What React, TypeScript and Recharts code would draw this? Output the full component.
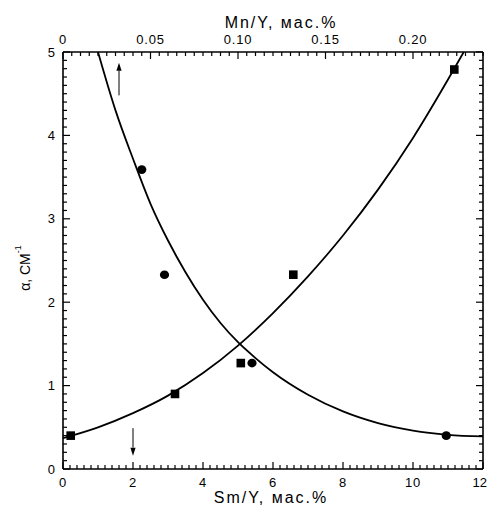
import React from 'react';
import { ComposedChart, Line, Scatter, XAxis, YAxis, ReferenceLine } from 'recharts';

// ---- tick labels ----
const smMajorTicks = [0, 2, 4, 6, 8, 10, 12];
const smTickLabels = ['0', '2', '4', '6', '8', '10', '12'];
const mnMajorTicks = [0, 0.05, 0.1, 0.15, 0.2];
const mnTickLabels = ['0', '0.05', '0.10', '0.15', '0.20'];
const alphaMajorTicks = [0, 1, 2, 3, 4, 5];
const alphaTickLabels = ['0', '1', '2', '3', '4', '5'];

// ---- squares (Sm/Y, bottom axis) ----
const squareSm = [0.22, 3.2, 5.08, 6.58, 11.18];
const squareAlpha = [0.4, 0.9, 1.27, 2.33, 4.79];

// ---- circles (Mn/Y, top axis) ----
const circleMn = [0.045, 0.058, 0.108, 0.219];
const circleAlpha = [3.59, 2.33, 1.27, 0.4];

// ---- rising fit curve (Sm/Y) ----
const riseCurveSm = [0, 1, 2, 3, 4, 5, 6, 7, 8, 9, 10, 11, 11.45];
const riseCurveAlpha = [0.37, 0.5, 0.67, 0.88, 1.15, 1.48, 1.87, 2.31, 2.8, 3.35, 3.97, 4.67, 5.0];

// ---- falling fit curve (Mn/Y) ----
const fallCurveMn = [0.02, 0.03, 0.04, 0.05, 0.06, 0.07, 0.08, 0.09, 0.1, 0.11, 0.12, 0.14, 0.16, 0.18, 0.2, 0.22, 0.24];
const fallCurveAlpha = [5.0, 4.3, 3.72, 3.18, 2.74, 2.36, 2.03, 1.75, 1.52, 1.33, 1.16, 0.89, 0.69, 0.55, 0.46, 0.41, 0.39];

// ---- arrows (Sm/Y units) ----
const arrowUp = { x: 1.6, from: 4.48, to: 4.87 };
const arrowDown = { x: 2.0, from: 0.49, to: 0.16 };

const FONT = '"Liberation Sans", Arial, sans-serif';

const range = (start: number, end: number, step: number) =>
  Array.from({ length: Math.round((end - start) / step) + 1 }, (_, i) => +(start + i * step).toFixed(4));

const smTicks = range(0, 12, 0.2);
const mnTicks = range(0, 0.24, 0.005);
const alphaTicks = range(0, 5, 0.1);

const squareData = squareSm.map((x, i) => ({ x, y: squareAlpha[i] }));
const circleData = circleMn.map((x, i) => ({ x, y: circleAlpha[i] }));
const riseData = riseCurveSm.map((x, i) => ({ x, y: riseCurveAlpha[i] }));
const fallData = fallCurveMn.map((x, i) => ({ x, y: fallCurveAlpha[i] }));

const findMajor = (majors: number[], v: number) => majors.findIndex((m) => Math.abs(m - v) < 1e-6);

const BottomTick = (props: any) => {
  const { x, y, payload } = props;
  const idx = findMajor(smMajorTicks, payload.value);
  const major = idx >= 0;
  const last = idx === smMajorTicks.length - 1;
  return (
    <g>
      <line x1={x} x2={x} y1={y} y2={y - (major ? 7 : 4)} stroke="#000" strokeWidth={1.2} />
      {major && (
        <text
          x={last ? x + 4 : x}
          y={y + 18}
          textAnchor={last ? 'end' : 'middle'}
          fontSize={13}
          letterSpacing={last ? 0 : 0.8}
          fontFamily={FONT}
          fill="#000"
        >
          {smTickLabels[idx]}
        </text>
      )}
    </g>
  );
};

const TopTick = (props: any) => {
  const { x, y, payload } = props;
  const idx = findMajor(mnMajorTicks, payload.value);
  const major = idx >= 0;
  return (
    <g>
      <line x1={x} x2={x} y1={y} y2={y + (major ? 7 : 4)} stroke="#000" strokeWidth={1.2} />
      {major && (
        <text x={x} y={y - 8} textAnchor="middle" fontSize={13} letterSpacing={0.8} fontFamily={FONT} fill="#000">
          {mnTickLabels[idx]}
        </text>
      )}
    </g>
  );
};

const LeftTick = (props: any) => {
  const { x, y, payload } = props;
  const idx = findMajor(alphaMajorTicks, payload.value);
  const major = idx >= 0;
  return (
    <g>
      <line x1={x} x2={x + (major ? 7 : 4)} y1={y} y2={y} stroke="#000" strokeWidth={1.2} />
      {major && (
        <text x={x - 8} y={y + 4.5} textAnchor="end" fontSize={13} fontFamily={FONT} fill="#000">
          {alphaTickLabels[idx]}
        </text>
      )}
    </g>
  );
};

const RightTick = (props: any) => {
  const { x, y, payload } = props;
  const major = findMajor(alphaMajorTicks, payload.value) >= 0;
  return <line x1={x} x2={x - (major ? 7 : 4)} y1={y} y2={y} stroke="#000" strokeWidth={1.2} />;
};

const Square = (props: any) => {
  const { cx, cy } = props;
  return <rect x={cx - 4.3} y={cy - 4.3} width={8.6} height={8.6} fill="#000" />;
};

const Dot = (props: any) => {
  const { cx, cy } = props;
  return <ellipse cx={cx} cy={cy} rx={4.6} ry={4.3} fill="#000" />;
};

const Arrow = (props: any) => {
  const { x1, y1, x2, y2 } = props;
  const dir = y2 < y1 ? -1 : 1;
  const headLen = 8;
  return (
    <g>
      <line x1={x1} y1={y1} x2={x2} y2={y2 - dir * headLen} stroke="#000" strokeWidth={1} />
      <polygon points={`${x2},${y2} ${x2 - 2.6},${y2 - dir * headLen} ${x2 + 2.6},${y2 - dir * headLen}`} fill="#000" />
    </g>
  );
};

const axisLineStyle = { stroke: '#000', strokeWidth: 1.6 };

export default function App() {
  return (
    <div style={{ position: 'absolute', left: 0, top: 0, width: 488, height: 506, background: '#fff' }}>
      <ComposedChart width={488} height={506} margin={{ top: 0, right: 0, bottom: 0, left: 0 }}>
        <XAxis
          xAxisId="bottom"
          orientation="bottom"
          type="number"
          dataKey="x"
          domain={[0, 12]}
          allowDataOverflow
          ticks={smTicks}
          interval={0}
          tickSize={0}
          tickMargin={0}
          tickLine={false}
          tick={<BottomTick />}
          axisLine={axisLineStyle}
          height={37}
          label={() => (
            <text x={271} y={503} textAnchor="middle" fontSize={16} letterSpacing={2} fontFamily={FONT} fill="#000">
              Sm/Y, мас.%
            </text>
          )}
        />
        <XAxis
          xAxisId="top"
          orientation="top"
          type="number"
          dataKey="x"
          domain={[0, 0.24]}
          allowDataOverflow
          ticks={mnTicks}
          interval={0}
          tickSize={0}
          tickMargin={0}
          tickLine={false}
          tick={<TopTick />}
          axisLine={axisLineStyle}
          height={52}
          label={() => (
            <text x={281} y={28} textAnchor="middle" fontSize={16} letterSpacing={2} fontFamily={FONT} fill="#000">
              Mn/Y, мас.%
            </text>
          )}
        />
        <YAxis
          yAxisId="left"
          orientation="left"
          type="number"
          dataKey="y"
          domain={[0, 5]}
          allowDataOverflow
          ticks={alphaTicks}
          interval={0}
          tickSize={0}
          tickMargin={0}
          tickLine={false}
          tick={<LeftTick />}
          axisLine={axisLineStyle}
          width={63}
          label={() => (
            <text transform="translate(30,268) rotate(-90)" textAnchor="middle" fontSize={14} fontFamily={FONT} fill="#000">
              α, СМ
              <tspan dy={-9} fontSize={9}>-1</tspan>
            </text>
          )}
        />
        <YAxis
          yAxisId="right"
          orientation="right"
          type="number"
          dataKey="y"
          domain={[0, 5]}
          allowDataOverflow
          ticks={alphaTicks}
          interval={0}
          tickSize={0}
          tickMargin={0}
          tickLine={false}
          tick={<RightTick />}
          axisLine={axisLineStyle}
          width={5}
        />
        <Line
          data={riseData}
          xAxisId="bottom"
          yAxisId="left"
          dataKey="y"
          type="monotone"
          stroke="#000"
          strokeWidth={1.8}
          dot={false}
          activeDot={false}
          isAnimationActive={false}
        />
        <Line
          data={fallData}
          xAxisId="top"
          yAxisId="left"
          dataKey="y"
          type="monotone"
          stroke="#000"
          strokeWidth={1.8}
          dot={false}
          activeDot={false}
          isAnimationActive={false}
        />
        <Scatter data={squareData} xAxisId="bottom" yAxisId="left" dataKey="y" shape={<Square />} isAnimationActive={false} />
        <Scatter data={circleData} xAxisId="top" yAxisId="left" dataKey="y" shape={<Dot />} isAnimationActive={false} />
        <ReferenceLine
          xAxisId="bottom"
          yAxisId="left"
          segment={[{ x: arrowUp.x, y: arrowUp.from }, { x: arrowUp.x, y: arrowUp.to }]}
          shape={<Arrow />}
        />
        <ReferenceLine
          xAxisId="bottom"
          yAxisId="left"
          segment={[{ x: arrowDown.x, y: arrowDown.from }, { x: arrowDown.x, y: arrowDown.to }]}
          shape={<Arrow />}
        />
      </ComposedChart>
    </div>
  );
}
